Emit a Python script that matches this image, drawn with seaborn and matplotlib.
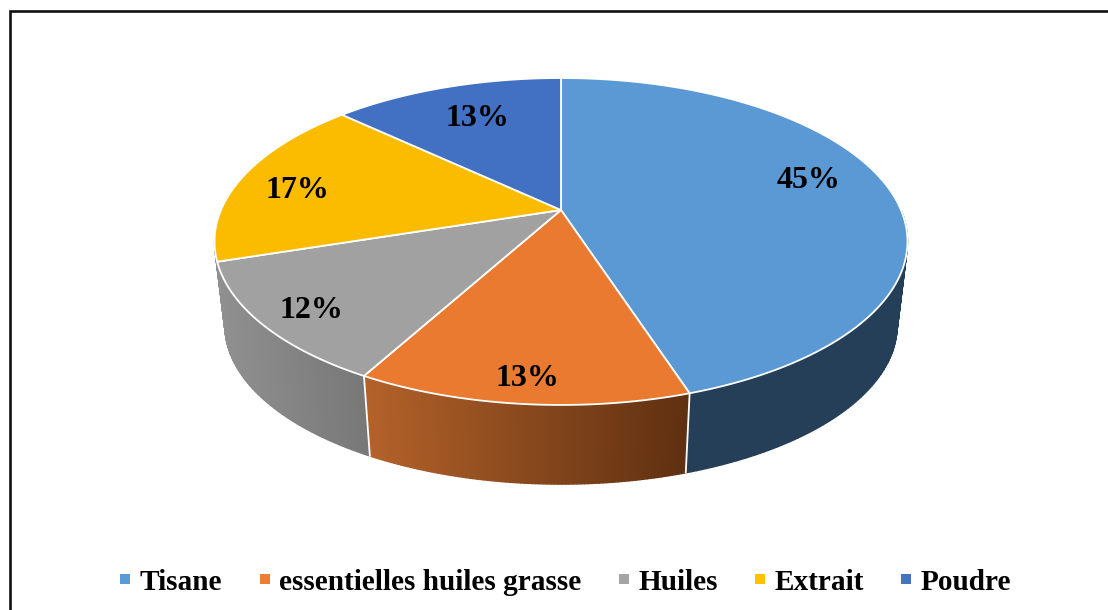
#import libraries
import seaborn as sns
import matplotlib.pyplot as plt
import matplotlib.colors as mcolors
from matplotlib.lines import Line2D
import numpy as np

#data
categories = ["Tisane", "essentielles huiles grasse", "Huiles", "Extrait", "Poudre"]
values = [45, 13, 12, 17, 13]
top_colors = ["#5a99d4", "#e97a30", "#a1a1a1", "#fbbc00", "#4270c2"]
legend_colors = ["#5b9bd5", "#ed7d31", "#a5a5a5", "#ffc000", "#4472c4"]
wall_left = ["#243f57", "#b4622a", "#909090"]
wall_right = ["#243f57", "#5f3011", "#787878"]
label_x = [809, 527, 311, 297, 477]
label_y = [181, 378, 310, 190, 119]

#set global styles
sns.set_theme(style="white")
plt.rcParams["font.family"] = ["Liberation Serif", "DejaVu Serif"]
palette = sns.color_palette(top_colors)

#perspective view of the disc (pixel space, 0 deg at 12 o'clock, clockwise)
CX, CY = 561, 210
A, B, K = 340, 157.4, 0.1926
DEPTH, SHRINK = 85, 0.97


def rim(theta, lower=False):
    t = np.radians(theta)
    u, v = np.sin(t), np.cos(t)
    w = 1 + K * v
    s = SHRINK if lower else 1.0
    x = CX + s * A * u / w
    y = CY - s * B * v / w + (DEPTH if lower else 0)
    return x, y


fig = plt.figure(figsize=(11.08, 6.10), dpi=100)
ax = fig.add_axes([0, 0, 1, 1])
ax.set_xlim(0, 1108)
ax.set_ylim(610, 0)
ax.axis("off")

#outer frame, open on the right and at the bottom
ax.plot([9.5, 9.5, 1108], [610, 11, 11], color="#111111", lw=1.9, solid_joinstyle="miter")

edges = np.concatenate([[0], np.cumsum(values)]) / np.sum(values) * 360

#side walls of the three front slices, shaded along the rim
for i in range(3):
    end = edges[i + 1] + (7 if i == 2 else 0)
    thetas = np.linspace(edges[i] + (0 if i else 90), end, 90)
    c0 = np.array(mcolors.to_rgb(wall_left[i]))
    c1 = np.array(mcolors.to_rgb(wall_right[i]))
    xs = rim(thetas)[0]
    for j in range(len(thetas) - 1):
        pair = thetas[j:j + 2]
        xt, yt = rim(pair)
        xb, yb = rim(pair, lower=True)
        f = (xs[j] - xs.min()) / (xs.max() - xs.min())
        col = c1 * f + c0 * (1 - f)
        ax.fill([xt[0], xt[1], xb[1], xb[0]], [yt[0], yt[1], yb[1], yb[0]],
                facecolor=col, edgecolor=col, lw=1.0, zorder=2)

#white separators between the walls
for theta in edges[1:3]:
    xt, yt = rim(theta)
    xb, yb = rim(theta, lower=True)
    ax.plot([xt, xb], [yt, yb], color="white", lw=1.3, zorder=3)

#top face
for i, color in enumerate(palette):
    thetas = np.linspace(edges[i], edges[i + 1], 200)
    x, y = rim(thetas)
    ax.fill(np.r_[CX, x], np.r_[CY, y], facecolor=color, edgecolor="white",
            lw=1.3, joinstyle="round", zorder=4)

#percent labels
for i in range(len(values)):
    ax.text(label_x[i], label_y[i], str(values[i]) + "%", ha="center", va="center",
            fontsize=23, fontweight="bold", color="black", zorder=5)

#legend
handles = [Line2D([], [], marker="s", linestyle="none", markersize=6.6,
                  markerfacecolor=c, markeredgecolor=c, markeredgewidth=0)
           for c in legend_colors]
fig.legend(handles, categories, ncol=5, loc="center", bbox_to_anchor=(566 / 1108, 1 - 582 / 610),
           frameon=False, numpoints=1, handlelength=0.32, handletextpad=0.34,
           columnspacing=1.28, borderpad=0, borderaxespad=0,
           prop={"size": 21.1, "weight": "bold"}, labelcolor="black")

fig.savefig("out.png", dpi=100)
